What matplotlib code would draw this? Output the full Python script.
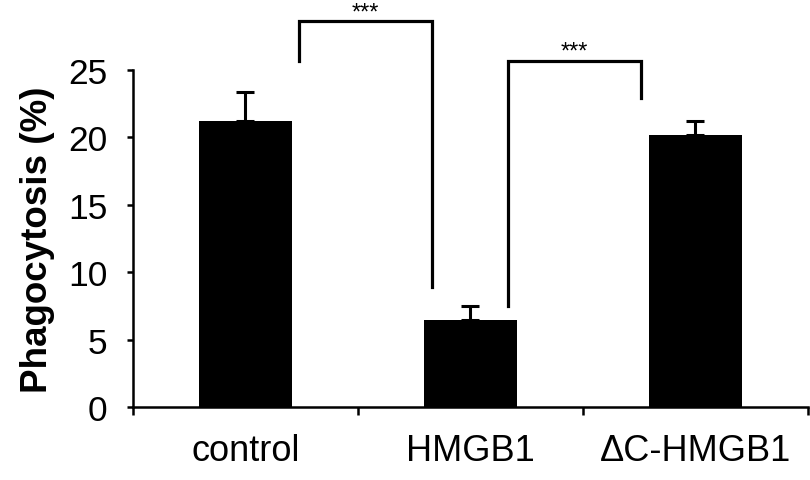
'''
Bar chart of phagocytosis (%) for control, HMGB1 and deltaC-HMGB1,
    with upper error bars and significance brackets.
'''
import matplotlib
matplotlib.use('Agg')
import matplotlib.pyplot as plt

categories = ['control', 'HMGB1', '\u0394C-HMGB1']
means = [21.2, 6.45, 20.2]
errors = [2.2, 1.05, 1.0]
y_ticks = [0, 5, 10, 15, 20, 25]

# significance brackets: (x left, x right, y left foot, y right foot, y top, label)
brackets = [
    (0.238, 0.829, 25.7, 8.9, 28.6, '***'),
    (1.167, 1.758, 7.5, 22.9, 25.7, '***'),
]

plt.rcParams['font.family'] = ['Liberation Sans', 'DejaVu Sans']

fig = plt.figure(figsize=(8.1, 4.81), dpi=100)
ax = fig.add_axes([0.1642, 0.1518, 0.8333, 0.7006])

x = list(range(len(categories)))
ax.bar(x, means, width=0.41, color='black', zorder=2)
ax.errorbar(x, means, yerr=[[0] * len(errors), errors], fmt='none',
            ecolor='black', elinewidth=2.2, capsize=6.5, capthick=2.2, zorder=1)

for x0, x1, y0, y1, top, label in brackets:
    ax.plot([x0, x0, x1, x1], [y0, top, top, y1], color='black',
            lw=2.3, clip_on=False, solid_joinstyle='miter')
    ax.text((x0 + x1) / 2, top + 0.25, label, ha='center', va='baseline',
            fontsize=17, clip_on=False)

ax.set_xlim(-0.5, len(categories) - 0.5)
ax.set_ylim(0, 25)
ax.set_yticks(y_ticks)
ax.set_xticks(x)
ax.set_xticklabels(categories)
ax.set_xticks([i - 0.5 for i in range(len(categories) + 1)], minor=True)
ax.tick_params(axis='x', which='major', length=0, pad=19, labelsize=26)
ax.tick_params(axis='x', which='minor', length=6, width=1.8, direction='out')
ax.tick_params(axis='y', length=4.5, width=1.8, direction='out', pad=14,
               labelsize=25.5)
ax.set_ylabel('Phagocytosis (%)', fontsize=26.5, fontweight='bold', labelpad=9)

for side in ['top', 'right']:
    ax.spines[side].set_visible(False)
for side in ['left', 'bottom']:
    ax.spines[side].set_linewidth(1.8)

fig.savefig('out.png', dpi=100)
